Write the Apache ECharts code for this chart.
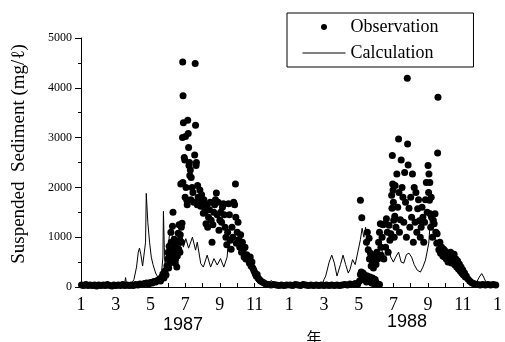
<!DOCTYPE html>
<html>
<head>
<meta charset="utf-8">
<script src="https://cdn.jsdelivr.net/npm/echarts@6/dist/echarts.min.js"></script>
<style>html,body{margin:0;padding:0;background:#fff}#c{width:505px;height:342px}</style>
</head>
<body>
<div id="c"></div>
<script>
// x = months since 1 Jan 1987 (0 .. 24), y = suspended sediment (mg/l)
var monthLabels = ['1','2','3','4','5','6','7','8','9','10','11','12'];
var yearLabels = ['1987', '1988'];
var yTicks = [0, 1000, 2000, 3000, 4000, 5000];

var obs1987 = [
[0.03,40],[0.15,30],[0.28,50],[0.4,30],[0.52,40],[0.65,30],[0.78,40],[0.9,20],[1.02,40],[1.15,30],[1.28,40],[1.4,30],[1.52,50],[1.65,30],[1.78,20],[1.9,40],[2.02,30],[2.15,40],[2.28,30],[2.4,50],[2.52,30],[2.65,40],[2.78,30],[2.9,40],[3.02,30],[3.15,50],[3.28,40],[3.4,60],[3.52,50],[3.65,70],[3.78,80],[3.9,60],[4.0,90],[4.1,80],[4.2,110],[4.3,100],[4.4,130],[4.5,150],[4.58,120],[4.65,200],[4.72,260],[4.78,180],[4.84,320],[4.9,240],[4.95,420],
[5.0,560],[5.02,700],[5.05,380],[5.08,820],[5.1,620],[5.13,480],[5.16,760],[5.18,1100],[5.2,900],[5.22,560],[5.25,700],[5.27,1220],[5.3,1500],[5.32,820],[5.35,640],[5.37,960],[5.4,780],[5.43,480],[5.45,560],[5.48,700],[5.5,860],[5.52,400],[5.55,620],[5.58,900],[5.6,1080],[5.63,760],[5.65,1250],[5.68,940],[5.7,700],[5.72,1050],[5.75,2070],[5.78,1200],[5.8,900],[5.82,1280],
[5.86,4520],[5.88,3840],[5.85,3000],[5.9,3300],[5.87,2100],[5.95,2600],[5.98,2550],[6.0,1800],[6.02,3020],[6.05,2000],[6.1,1740],[6.12,1650],[6.15,3350],[6.18,3080],[6.2,2800],[6.22,2440],[6.25,2500],[6.27,2240],[6.3,2350],[6.33,1750],[6.35,2200],[6.4,2000],[6.45,1900],[6.5,1700],[6.55,2650],[6.58,4490],[6.6,3250],[6.63,2440],[6.65,2500],[6.7,1650],[6.72,2040],[6.75,1800],[6.8,1700],[6.85,1950],[6.9,1620],
[6.95,1850],[7.0,1700],[7.05,1480],[7.08,1750],[7.12,1600],[7.15,1500],[7.2,1270],[7.25,1640],[7.3,1200],[7.35,1400],[7.4,1550],[7.45,1700],[7.5,1340],[7.55,900],[7.6,1250],[7.65,1500],[7.7,1650],[7.75,1750],[7.8,1890],[7.85,1450],[7.9,1700],[7.95,1140],[8.0,1340],[8.05,1500],[8.1,1300],[8.15,1600],[8.2,1670],[8.25,1450],[8.3,1200],[8.35,1000],[8.4,850],
[8.45,1100],[8.5,1670],[8.55,1450],[8.6,940],[8.65,760],[8.7,1200],[8.75,1000],[8.8,1700],[8.9,2070],[8.85,1650],[8.92,1400],[8.95,880],[9.0,1100],[9.05,1300],[9.1,950],[9.15,800],[9.2,1050],[9.25,700],[9.3,900],[9.35,760],[9.4,600],[9.45,800],[9.5,560],[9.55,650],
[9.6,560],[9.7,480],[9.75,600],[9.8,420],[9.85,500],[9.9,380],[9.95,340],[10.0,300],[10.05,260],[10.1,220],[10.15,250],[10.2,180],[10.25,160],[10.3,140],[10.35,120],[10.45,100],[10.55,80],[10.65,60],
[10.8,50],[10.95,40],[11.1,50],[11.25,40],[11.4,30],[11.55,40],[11.7,30],[11.85,40]
];

var obs1988 = [
[12.05,40],[12.2,30],[12.35,50],[12.5,40],[12.65,30],[12.8,50],[12.95,40],[13.1,30],[13.25,40],[13.4,30],[13.55,40],[13.7,30],[13.85,40],[14.0,30],[14.15,40],[14.3,30],[14.45,40],[14.6,30],[14.75,40],[14.9,30],[15.05,40],[15.2,50],[15.35,40],[15.5,60],[15.65,50],[15.8,70],[15.95,60],
[16.05,120],[16.1,250],[16.15,300],[16.2,200],[16.25,280],[16.3,150],[16.35,240],[16.4,180],[16.45,100],[16.5,220],[16.55,160],[16.6,120],[16.65,200],[16.7,140],[16.75,80],[16.8,180],[16.85,100],[16.9,60],[16.95,150],[17.0,90],[17.1,60],[17.2,50],
[16.1,1740],[16.18,1390],[16.45,900],[16.5,1100],[16.55,750],[16.6,980],[16.62,560],[16.68,680],[16.72,420],[16.78,520],[16.85,380],[16.9,600],[17.0,450],[17.05,700],[17.1,560],[17.15,900],[17.2,1100],[17.25,1270],[17.28,800],[17.3,640],
[17.35,1000],[17.4,1250],[17.45,560],[17.5,1270],[17.55,800],[17.6,1370],[17.65,1100],[17.7,700],[17.75,1240],[17.8,940],[17.85,1070],[17.9,1840],[17.92,1580],[17.94,2640],[17.96,2070],[17.98,1950],[18.0,1700],[18.02,1340],[18.05,1000],[18.08,1420],[18.1,2040],[18.15,1200],[18.2,2270],[18.25,1600],[18.3,2970],[18.32,1900],[18.35,1100],[18.4,1350],[18.45,2550],[18.5,2000],[18.55,1800],[18.6,1300],[18.65,2300],[18.7,1700],[18.75,1000],[18.8,4190],[18.82,2870],[18.85,2450],[18.9,1580],[18.95,1200],[19.0,1800],[19.05,1400],[19.1,2270],[19.15,900],[19.2,2000],[19.25,1300],[19.3,1900],[19.35,1100],[19.4,1570],[19.45,1750],[19.5,1330],[19.55,1000],[19.6,1200],[19.65,1600],[19.7,1400],[19.75,900],[19.8,1300],[19.85,1750],[19.9,2100],[19.95,1500],[20.0,2440],[20.03,1900],[20.05,2270],[20.08,1740],[20.1,2100],[20.12,1470],[20.15,1200],[20.18,1800],[20.2,1400],[20.25,1000],[20.3,1340],[20.35,1270],[20.4,1470],[20.45,1100],[20.5,880],[20.52,1070],[20.55,2690],[20.57,3810],
[20.62,750],[20.68,900],[20.72,680],[20.78,800],[20.85,620],[20.9,760],[20.95,600],[21.0,720],[21.05,560],[21.1,680],[21.15,500],[21.2,640],[21.25,560],[21.3,700],[21.35,480],[21.4,600],[21.45,520],[21.5,660],[21.55,440],[21.6,560],[21.65,400],[21.7,520],[21.75,360],[21.8,460],[21.85,320],[21.9,400],[21.95,280],[22.0,340],[22.05,240],[22.1,280],[22.15,200],[22.2,220],[22.3,160],[22.4,120],[22.5,90],[22.6,70],[22.7,60],
[22.85,50],[23.0,40],[23.15,50],[23.3,40],[23.45,50],[23.6,40],[23.75,50],[23.9,40]
];

var calc1987 = [
[0,60],[0.3,50],[0.6,60],[1.0,50],[1.4,40],[1.8,50],[2.2,40],[2.5,50],[2.57,190],[2.62,50],[2.9,60],[3.05,150],[3.2,400],[3.3,700],[3.37,780],[3.45,650],[3.55,420],[3.65,460],[3.72,900],[3.76,1880],[3.85,1300],[3.95,900],[4.05,600],[4.15,450],[4.3,280],[4.45,180],[4.6,120],[4.68,130],[4.72,600],[4.75,1520],[4.8,800],[4.86,300],[4.93,700],[5.0,600],[5.08,1000],[5.18,1200],[5.27,1000],[5.37,780],[5.45,900],[5.55,850],[5.65,700],[5.75,900],[5.82,1000],[5.9,800],[6.04,970],[6.2,780],[6.42,1000],[6.6,740],[6.7,900],[6.9,470],[7.05,400],[7.27,640],[7.47,400],[7.66,570],[7.85,440],[8.04,570],[8.23,400],[8.42,600],[8.51,1000],[8.7,940],[8.99,1000],[9.2,800],[9.4,650],[9.6,500],[9.8,350],[10.0,220],[10.2,120],[10.4,70],[10.6,60],[10.8,90],[10.98,130],[11.15,70],[11.4,50],[11.7,40],[12.0,50]
];

var calc1988 = [
[12.3,40],[12.7,50],[13.1,40],[13.5,30],[13.9,40],[14.0,150],[14.1,220],[14.3,500],[14.45,640],[14.6,480],[14.75,220],[14.85,250],[14.95,450],[15.1,640],[15.25,450],[15.4,280],[15.5,350],[15.65,550],[15.8,450],[15.95,700],[16.1,950],[16.2,1180],[16.3,1000],[16.4,1200],[16.5,800],[16.6,500],[16.7,700],[16.85,500],[17.0,480],[17.15,700],[17.27,850],[17.4,650],[17.55,600],[17.7,800],[17.85,600],[18.0,500],[18.13,600],[18.3,700],[18.45,500],[18.6,480],[18.75,650],[18.9,680],[19.05,600],[19.2,450],[19.37,340],[19.56,300],[19.7,400],[19.85,540],[20.04,880],[20.13,1340],[20.2,1450],[20.3,1100],[20.5,900],[20.7,700],[20.9,600],[21.1,520],[21.3,450],[21.5,380],[21.7,300],[21.9,200],[22.04,200],[22.3,120],[22.6,80],[22.8,100],[22.95,200],[23.09,270],[23.2,200],[23.37,70],[23.6,50],[24,50]
];

var chart = echarts.init(document.getElementById('c'), null, {renderer: 'canvas'});
var serif = 'Liberation Serif';
chart.setOption({
  animation: false,
  backgroundColor: '#fff',
  grid: {left: 81, right: 4, top: 38, bottom: 55, containLabel: false},
  legend: {
    left: 287, top: 13, orient: 'vertical',
    itemWidth: 43, itemHeight: 6, itemGap: 8,
    padding: [5, 35, 5, 15],
    borderColor: '#000', borderWidth: 1, borderRadius: 0,
    textStyle: {fontFamily: serif, fontSize: 18, color: '#000'},
    data: [
      {name: 'Observation', icon: 'circle'},
      {name: 'Calculation', itemStyle: {opacity: 0}, lineStyle: {color: '#000', width: 1, opacity: 1}}
    ]
  },
  xAxis: {
    type: 'value', min: 0, max: 24, interval: 1,
    axisLine: {lineStyle: {color: '#000', width: 1}},
    axisTick: {inside: true, length: 4, lineStyle: {color: '#000'}},
    axisLabel: {
      margin: 9, color: '#000', fontFamily: serif, fontSize: 18,
      formatter: function (v) { return (v % 2 === 0) ? monthLabels[v % 12] : ''; }
    },
    splitLine: {show: false}
  },
  yAxis: {
    type: 'value', min: yTicks[0], max: yTicks[yTicks.length - 1], interval: 1000,
    axisLine: {show: true, lineStyle: {color: '#000', width: 1}},
    axisTick: {show: true, length: 6, lineStyle: {color: '#000'}},
    minorTick: {show: true, splitNumber: 2, length: 3, lineStyle: {color: '#000'}},
    axisLabel: {margin: 9, color: '#000', fontFamily: serif, fontSize: 12,
      formatter: function (v) { return String(v); }},
    splitLine: {show: false}
  },
  graphic: [
    {type: 'text', x: 19, y: 154, rotation: Math.PI / 2, style: {text: 'Suspended  Sediment (mg/ℓ)', font: '19px "Liberation Serif"', fill: '#000', align: 'center', verticalAlign: 'middle'}},
    {type: 'text', x: 183, y: 325, style: {text: yearLabels[0], font: '18px "Liberation Sans"', fill: '#000', align: 'center', verticalAlign: 'middle'}},
    {type: 'text', x: 407, y: 322, style: {text: yearLabels[1], font: '18px "Liberation Sans"', fill: '#000', align: 'center', verticalAlign: 'middle'}},
    {type: 'text', x: 314, y: 337, style: {text: '年', font: '15px "Noto Sans CJK SC"', fill: '#000', align: 'center', verticalAlign: 'middle'}}
  ],
  series: [
    {name: 'Calculation', type: 'line', data: calc1987.concat(calc1988), symbol: 'none', showSymbol: false,
     lineStyle: {color: '#000', width: 1}, itemStyle: {color: '#000'}, z: 2},
    {name: 'Observation', type: 'scatter', data: obs1987.concat(obs1988), symbol: 'circle', symbolSize: 7,
     itemStyle: {color: '#000', opacity: 1}, z: 3}
  ]
});
</script>
</body>
</html>
